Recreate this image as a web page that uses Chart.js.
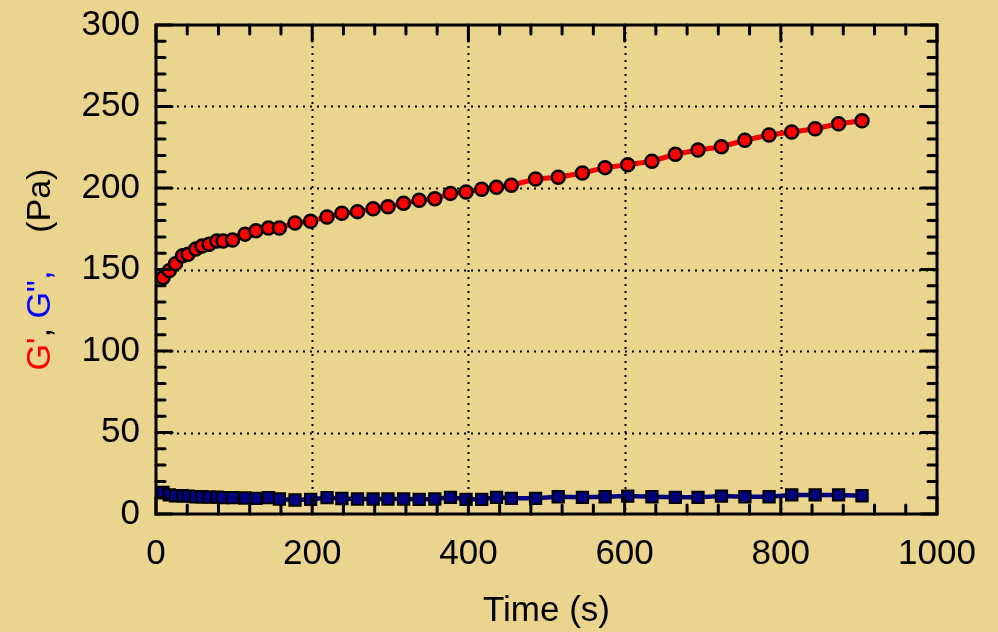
<!DOCTYPE html>
<html>
<head>
<meta charset="utf-8">
<script src="https://cdn.jsdelivr.net/npm/chart.js@4.4.0/dist/chart.umd.min.js"></script>
<style>
  html, body { margin: 0; padding: 0; background: #ebd48e; }
  #wrap { width: 998px; height: 632px; }
</style>
</head>
<body>
<div id="wrap"><canvas id="c" width="998" height="632"></canvas></div>
<script>
// Time sweep (s)
const timeS = [9, 17, 25, 34, 41, 51, 59, 68, 78, 86, 98, 114, 128, 144, 158, 178, 198, 219,
  238, 258, 278, 297, 317, 337, 357, 377, 397, 417, 436, 455, 486, 515, 546, 575, 604, 635,
  665, 694, 724, 754, 785, 814, 844, 874, 904];

// Storage modulus G' (Pa)
const gPrime = [145.0, 149.3, 153.6, 158.5, 159.3, 162.6, 164.4, 165.5, 167.5, 167.5, 168.1,
  171.7, 173.8, 175.5, 175.5, 178.5, 179.6, 182.2, 184.5, 185.5, 187.3, 188.5, 190.6, 192.5,
  193.4, 196.7, 197.5, 199.2, 200.4, 201.7, 205.5, 206.6, 209.2, 212.5, 214.3, 216.4, 220.7,
  223.3, 225.3, 229.3, 232.5, 234.4, 236.4, 239.4, 241.3];

// Loss modulus G'' (Pa)
const gDoublePrime = [13.2, 11.7, 11.2, 11.2, 11.0, 10.6, 10.6, 10.4, 10.4, 10.1, 10.1, 9.8,
  9.6, 10.0, 9.2, 8.6, 9.0, 10.0, 9.5, 9.2, 9.2, 9.2, 9.2, 9.0, 9.2, 10.2, 9.0, 9.0, 10.2, 9.6,
  9.6, 10.6, 10.2, 10.6, 11.0, 10.6, 10.2, 10.2, 11.0, 10.6, 10.6, 11.7, 11.7, 11.7, 11.2];

// Axis tick labels
const xTicks = [0, 200, 400, 600, 800, 1000];
const yTicks = [0, 50, 100, 150, 200, 250, 300];
const xMinorStep = 40;
const yMinorStep = 10;

const FONT = "'Liberation Sans', Arial, sans-serif";
const FONT_SIZE = 35;

function strokeLine(ctx, x1, y1, x2, y2) {
  ctx.beginPath(); ctx.moveTo(x1, y1); ctx.lineTo(x2, y2); ctx.stroke();
}

// Dotted grid, inward ticks on all four sides, box frame, and the two-colour y title
const framePlugin = {
  id: 'frame',
  beforeDatasetsDraw(chart) {
    const { ctx, chartArea: a, scales: { x, y } } = chart;
    ctx.save();
    ctx.strokeStyle = '#000';
    ctx.lineWidth = 2;
    ctx.setLineDash([2, 5]);
    xTicks.slice(1, -1).forEach(v => {
      const px = Math.round(x.getPixelForValue(v)) + 0.5;
      strokeLine(ctx, px, a.top, px, a.bottom);
    });
    yTicks.slice(1, -1).forEach(v => {
      const py = Math.round(y.getPixelForValue(v)) + 0.5;
      strokeLine(ctx, a.left, py, a.right, py);
    });
    ctx.restore();
  },
  afterDatasetsDraw(chart) {
    const { ctx, chartArea: a, scales: { x, y } } = chart;
    ctx.save();
    ctx.strokeStyle = '#000';
    ctx.lineWidth = 3;
    ctx.lineCap = 'round';
    const major = 16, minor = 9;
    for (let v = x.min; v <= x.max + 1e-6; v += xMinorStep) {
      const len = xTicks.includes(v) ? major : minor;
      const px = x.getPixelForValue(v);
      strokeLine(ctx, px, a.bottom, px, a.bottom - len);
      strokeLine(ctx, px, a.top, px, a.top + len);
    }
    for (let v = y.min; v <= y.max + 1e-6; v += yMinorStep) {
      const len = yTicks.includes(v) ? major : minor;
      const py = y.getPixelForValue(v);
      strokeLine(ctx, a.left, py, a.left + len, py);
      strokeLine(ctx, a.right, py, a.right - len, py);
    }
    ctx.lineCap = 'square';
    ctx.strokeRect(a.left, a.top, a.right - a.left, a.bottom - a.top);
    ctx.restore();
  },
  afterDraw(chart) {
    const { ctx, chartArea: a } = chart;
    const parts = [
      ["G'", '#ff0000'],
      [', ', '#000000'],
      ['G"', '#0000ff'],
      [',', '#0000ff'],
      ['    (Pa)', '#000000']
    ];
    ctx.save();
    ctx.font = '34px ' + FONT;
    ctx.textBaseline = 'middle';
    ctx.textAlign = 'left';
    const total = parts.reduce((s, p) => s + ctx.measureText(p[0]).width, 0);
    ctx.translate(41, (a.top + a.bottom) / 2);
    ctx.rotate(-Math.PI / 2);
    let cx = -total / 2;
    parts.forEach(([t, c]) => {
      ctx.fillStyle = c;
      ctx.fillText(t, cx, 0);
      cx += ctx.measureText(t).width;
    });
    ctx.restore();
  }
};

new Chart(document.getElementById('c'), {
  type: 'line',
  data: {
    datasets: [
      {
        label: "G'",
        data: timeS.map((t, i) => ({ x: t, y: gPrime[i] })),
        borderColor: '#ff0000',
        borderWidth: 5,
        backgroundColor: '#ff0000',
        pointBackgroundColor: '#ff0000',
        pointBorderColor: '#000000',
        pointBorderWidth: 2.5,
        pointRadius: 6.5,
        pointStyle: 'circle',
        tension: 0
      },
      {
        label: 'G"',
        data: timeS.map((t, i) => ({ x: t, y: gDoublePrime[i] })),
        borderColor: '#000080',
        borderWidth: 4.5,
        backgroundColor: '#000080',
        pointBackgroundColor: '#000080',
        pointBorderColor: '#000000',
        pointBorderWidth: 2,
        pointRadius: 8,
        pointStyle: 'rect',
        tension: 0
      }
    ]
  },
  options: {
    responsive: false,
    animation: false,
    events: [],
    layout: { padding: { left: 0, top: 25, right: 61, bottom: 0 } },
    plugins: { legend: { display: false }, tooltip: { enabled: false } },
    scales: {
      x: {
        type: 'linear',
        min: 0, max: 1000,
        afterBuildTicks: s => { s.ticks = xTicks.map(v => ({ value: v })); },
        afterFit: s => { s.height = 118; s.paddingLeft = 0; s.paddingRight = 0; },
        grid: { display: false, drawTicks: false },
        border: { display: false },
        ticks: { color: '#000', font: { family: FONT, size: FONT_SIZE }, padding: 19, maxRotation: 0, callback: v => String(v) },
        title: { display: true, text: 'Time (s)', color: '#000', font: { family: FONT, size: FONT_SIZE }, padding: { top: 0, bottom: 0 } }
      },
      y: {
        type: 'linear',
        min: 0, max: 300,
        afterBuildTicks: s => { s.ticks = yTicks.map(v => ({ value: v })); },
        afterFit: s => { s.width = 156; s.paddingTop = 0; s.paddingBottom = 0; },
        grid: { display: false, drawTicks: false },
        border: { display: false },
        ticks: { color: '#000', font: { family: FONT, size: FONT_SIZE }, padding: 16, callback: v => String(v) }
      }
    }
  },
  plugins: [framePlugin]
});
</script>
</body>
</html>
